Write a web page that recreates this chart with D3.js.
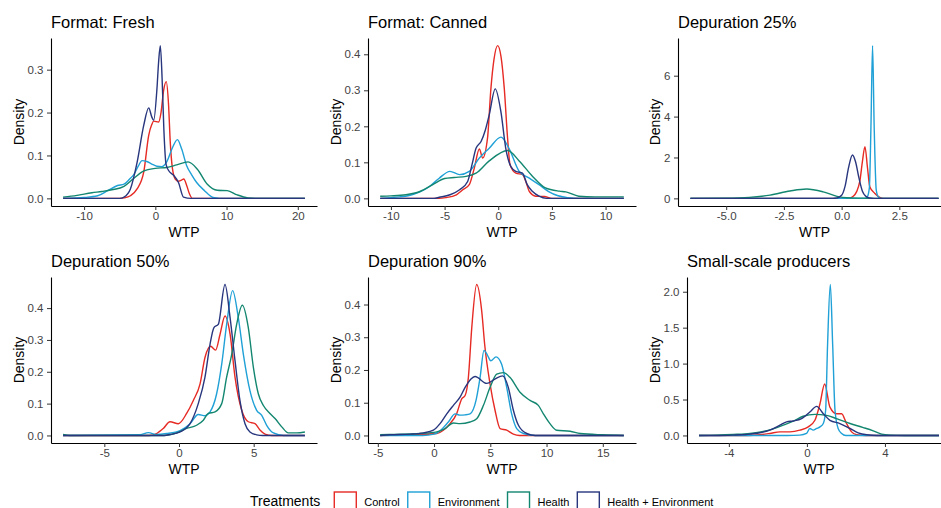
<!DOCTYPE html>
<html>
<head>
<meta charset="utf-8">
<script src="https://cdn.jsdelivr.net/npm/d3@7"></script>
<style>
body { margin: 0; background: #fff; }
svg { display: block; font-family: "Liberation Sans", Arial, Helvetica, sans-serif; }
</style>
</head>
<body>
<svg id="chart" width="941" height="508"></svg>
<script>
// treatments, in drawing order (last one ends on top)
const treatments = ['Control', 'Environment', 'Health', 'Health + Environment'];
const panelTitles = ['Format: Fresh', 'Format: Canned', 'Depuration 25%', 'Depuration 50%', 'Depuration 90%', 'Small-scale producers'];

const xTicks = [[-10, 0, 10, 20], [-10, -5, 0, 5, 10], [-5, -2.5, 0, 2.5], [-5, 0, 5], [-5, 0, 5, 10, 15], [-4, 0, 4]];
const yTicks = [[0, 0.1, 0.2, 0.3], [0, 0.1, 0.2, 0.3, 0.4], [0, 2, 4, 6], [0, 0.1, 0.2, 0.3, 0.4], [0, 0.1, 0.2, 0.3, 0.4], [0, 0.5, 1, 1.5, 2]];

// density curves, [WTP, density]
const freshControl = [[-12.95,0],[-5,0],[-4.4,0.001],[-3.5,0.006],[-2.56,0.022],[-1.63,0.061],[-0.93,0.147],[-0.5,0.172],[-0.23,0.18],[0.46,0.178],[0.8,0.2],[1.15,0.25],[1.53,0.272],[1.85,0.22],[2.1,0.13],[2.4,0.07],[2.8,0.045],[3.2,0.04],[3.6,0.042],[4.0,0.045],[4.4,0.03],[4.8,0.01],[5.2,0],[21,0]];
const freshEnvironment = [[-12.95,0],[-10,0.002],[-8.1,0.006],[-6.7,0.018],[-5.3,0.03],[-4.4,0.033],[-3.6,0.045],[-3.0,0.056],[-2.4,0.075],[-1.86,0.088],[-1.2,0.086],[-0.5,0.08],[0.2,0.075],[0.93,0.074],[1.6,0.085],[2.4,0.118],[3.1,0.137],[3.7,0.115],[4.4,0.076],[5.1,0.055],[5.8,0.037],[6.9,0.018],[8.1,0.002],[9,0],[21,0]];
const freshHealth = [[-12.95,0.003],[-11,0.007],[-10,0.01],[-8.9,0.013],[-7.5,0.016],[-6.1,0.02],[-4.4,0.028],[-3.0,0.047],[-1.6,0.064],[0,0.07],[1.6,0.072],[3.0,0.078],[4.6,0.085],[5.9,0.068],[7.3,0.033],[8.7,0.019],[10.1,0.018],[11.5,0.008],[13,0.001],[14,0],[21,0]];
const freshHealthEnv = [[-12.95,0],[-5,0],[-4.4,0.003],[-3.5,0.022],[-2.56,0.084],[-1.63,0.17],[-0.93,0.211],[-0.5,0.19],[-0.23,0.182],[0.23,0.256],[0.46,0.318],[0.7,0.356],[0.95,0.28],[1.2,0.16],[1.5,0.08],[1.86,0.065],[2.56,0.054],[3.25,0.037],[3.95,0.003],[5,0],[21,0]];

const cannedControl = [[-11,0],[-5.5,0],[-4.9,0.002],[-3.9,0.01],[-3.3,0.024],[-2.7,0.038],[-2.23,0.084],[-1.76,0.137],[-1.45,0.112],[-1.0,0.167],[-0.68,0.306],[-0.4,0.385],[-0.06,0.424],[0.25,0.395],[0.56,0.306],[0.87,0.167],[1.1,0.093],[1.64,0.07],[2.26,0.066],[2.57,0.047],[2.9,0.019],[3.5,0.006],[4.3,0.005],[5,0],[11.7,0]];
const cannedEnvironment = [[-11,0],[-10,0.002],[-9.2,0.004],[-8.3,0.008],[-7.3,0.018],[-6.4,0.033],[-5.5,0.056],[-4.5,0.075],[-3.6,0.066],[-2.7,0.075],[-1.76,0.112],[-0.84,0.139],[0.25,0.17],[1.0,0.139],[1.95,0.075],[2.9,0.056],[3.8,0.038],[4.7,0.019],[5.5,0.008],[6.5,0.002],[7.5,0],[11.7,0]];
const cannedHealth = [[-11,0.006],[-10,0.007],[-8.6,0.01],[-7.3,0.019],[-6.1,0.038],[-5.0,0.055],[-4.1,0.058],[-3.0,0.061],[-2.07,0.07],[-0.84,0.104],[0.87,0.133],[1.95,0.104],[3.2,0.061],[4.4,0.029],[5.7,0.02],[6.3,0.018],[7.5,0.006],[9,0.004],[11.7,0.004]];
const cannedHealthEnv = [[-11,0],[-6,0],[-5.5,0.003],[-4.5,0.01],[-3.6,0.024],[-2.85,0.047],[-2.45,0.093],[-2.07,0.139],[-1.6,0.158],[-1.2,0.19],[-0.84,0.232],[-0.28,0.304],[0.25,0.24],[0.7,0.139],[1.18,0.088],[1.64,0.075],[2.26,0.07],[2.7,0.038],[3.2,0.019],[3.8,0.006],[4.5,0],[11.7,0]];

const dep25Control = [[-6.55,0],[0.3,0],[0.5,0.1],[0.65,0.33],[0.79,0.85],[0.9,1.8],[1.01,2.53],[1.12,1.5],[1.22,0.57],[1.43,0.25],[1.65,0.05],[1.8,0],[4.2,0]];
const dep25Environment = [[-6.55,0],[1.0,0],[1.1,0.05],[1.2,0.5],[1.27,3.5],[1.34,7.47],[1.41,3.5],[1.5,0.4],[1.6,0.05],[1.7,0],[4.2,0]];
const dep25Health = [[-6.55,0],[-5,0.01],[-4,0.05],[-3.1,0.16],[-2.24,0.36],[-1.52,0.46],[-0.8,0.32],[-0.2,0.1],[0.22,0.03],[0.94,0.01],[1.5,0],[4.2,0]];
const dep25HealthEnv = [[-6.55,0],[-0.4,0],[-0.2,0.02],[0,0.15],[0.15,0.6],[0.3,1.5],[0.47,2.12],[0.6,1.8],[0.75,1.0],[0.9,0.35],[1.05,0.1],[1.2,0.02],[1.4,0],[4.2,0]];

const dep50Control = [[-7.76,0],[-2,0],[-1.5,0.006],[-1.05,0.022],[-0.6,0.043],[-0.04,0.037],[0.51,0.069],[0.96,0.11],[1.41,0.162],[1.74,0.245],[2.12,0.28],[2.45,0.268],[2.75,0.318],[3.08,0.375],[3.42,0.318],[3.75,0.183],[4.2,0.079],[4.64,0.043],[5.09,0.037],[5.42,0.017],[5.76,0.004],[6.2,0],[8.43,0]];
const dep50Environment = [[-7.76,0],[-2.6,0.002],[-2.05,0.009],[-1.5,0.003],[-0.83,0.006],[0.07,0.015],[0.74,0.037],[1.29,0.066],[1.74,0.062],[2.08,0.074],[2.52,0.131],[2.86,0.224],[3.19,0.349],[3.59,0.455],[3.97,0.37],[4.31,0.255],[4.75,0.141],[5.2,0.079],[5.54,0.063],[5.87,0.032],[6.32,0.008],[7,0],[8.43,0]];
const dep50Health = [[-7.76,0.003],[-7.3,0],[-1,0],[-0.16,0.008],[0.51,0.022],[1.18,0.032],[1.63,0.048],[1.96,0.069],[2.41,0.074],[2.86,0.1],[3.19,0.183],[3.53,0.255],[3.86,0.349],[4.24,0.409],[4.64,0.339],[4.98,0.214],[5.31,0.131],[5.65,0.094],[6.09,0.069],[6.43,0.053],[6.88,0.027],[7.32,0.008],[7.88,0.008],[8.43,0.011]];
const dep50HealthEnv = [[-7.76,0],[-1,0],[-0.6,0.003],[0.07,0.011],[0.74,0.037],[1.29,0.1],[1.74,0.183],[2.08,0.287],[2.34,0.339],[2.63,0.349],[3.08,0.474],[3.42,0.37],[3.75,0.235],[4.08,0.11],[4.42,0.037],[4.75,0.011],[5.2,0.002],[5.6,0],[8.43,0]];

const dep90Control = [[-4.79,0],[-2,0.002],[0.24,0.006],[0.83,0.016],[1.42,0.036],[2.0,0.066],[2.46,0.112],[2.76,0.122],[3.05,0.177],[3.35,0.328],[3.79,0.461],[4.24,0.379],[4.5,0.278],[4.98,0.157],[5.42,0.077],[5.87,0.021],[6.46,0.016],[7.05,0.004],[7.6,0],[16.87,0]];
const dep90Environment = [[-4.79,0],[-1,0],[0.0,0.004],[0.53,0.014],[1.27,0.041],[1.87,0.066],[2.3,0.062],[2.76,0.063],[3.2,0.066],[3.73,0.107],[4.09,0.177],[4.44,0.26],[4.75,0.245],[5.04,0.228],[5.51,0.24],[6.0,0.218],[6.46,0.147],[6.9,0.066],[7.35,0.021],[7.94,0.006],[9,0],[16.87,0]];
const dep90Health = [[-4.79,0.002],[-4,0.003],[-1.24,0.006],[0.24,0.011],[0.98,0.021],[1.72,0.038],[2.31,0.036],[3.2,0.041],[3.79,0.051],[4.39,0.092],[4.98,0.147],[5.57,0.187],[6.16,0.192],[6.76,0.177],[7.64,0.132],[8.53,0.107],[9.27,0.092],[9.72,0.066],[10.3,0.036],[10.9,0.016],[12.1,0.013],[13,0.006],[15,0.002],[16.87,0]];
const dep90HealthEnv = [[-4.79,0],[-3.9,0.002],[-2.1,0.004],[-0.95,0.008],[-0.06,0.016],[0.53,0.036],[1.13,0.066],[1.72,0.092],[2.31,0.117],[2.76,0.147],[3.64,0.18],[4.68,0.159],[5.4,0.172],[6.1,0.182],[6.6,0.147],[7.05,0.077],[7.5,0.031],[8.24,0.006],[9,0],[16.87,0]];

const smallControl = [[-5.53,0],[-3,0],[-2.4,0.01],[-1.9,0.028],[-1.38,0.05],[-0.87,0.05],[-0.36,0.074],[0.07,0.12],[0.41,0.211],[0.67,0.441],[0.91,0.717],[1.18,0.395],[1.52,0.303],[1.78,0.303],[2.03,0.166],[2.29,0.05],[2.55,0.01],[3,0],[6.77,0]];
const smallEnvironment = [[-5.53,0],[-1,0],[-0.36,0.005],[-0.02,0.028],[0.15,0.097],[0.32,0.074],[0.5,0.097],[0.67,0.12],[0.84,0.166],[0.96,0.35],[1.06,1.27],[1.2,2.1],[1.32,1.27],[1.44,0.35],[1.6,0.097],[1.78,0.028],[2.0,0],[6.77,0]];
const smallHealth = [[-5.53,0],[-4.6,0.005],[-3.78,0.014],[-2.92,0.028],[-2.24,0.055],[-1.73,0.092],[-1.21,0.143],[-0.7,0.198],[-0.19,0.267],[0.41,0.294],[1.01,0.28],[1.52,0.234],[2.21,0.166],[2.89,0.11],[3.4,0.064],[3.83,0.018],[4.26,0.005],[5,0],[6.77,0]];
const smallHealthEnv = [[-5.53,0],[-4.5,0],[-3.78,0.005],[-3.09,0.014],[-2.41,0.037],[-1.9,0.074],[-1.38,0.143],[-1.04,0.189],[-0.7,0.202],[-0.27,0.234],[0.15,0.326],[0.5,0.405],[0.84,0.303],[1.18,0.211],[1.69,0.166],[2.21,0.097],[2.63,0.037],[3.06,0.01],[3.6,0],[6.77,0]];

const panelSeries = [
    [freshControl, freshEnvironment, freshHealth, freshHealthEnv],
    [cannedControl, cannedEnvironment, cannedHealth, cannedHealthEnv],
    [dep25Control, dep25Environment, dep25Health, dep25HealthEnv],
    [dep50Control, dep50Environment, dep50Health, dep50HealthEnv],
    [dep90Control, dep90Environment, dep90Health, dep90HealthEnv],
    [smallControl, smallEnvironment, smallHealth, smallHealthEnv]
];

const colors = ['#E62A24', '#1FA0D6', '#138670', '#28367E'];

// panel rectangles (the right column runs past the picture edge, as in the original)
const boxes = [
    { left: 51, right: 317, top: 38, bottom: 206 },
    { left: 368, right: 636, top: 38, bottom: 206 },
    { left: 678, right: 951, top: 38, bottom: 206 },
    { left: 51, right: 317, top: 277, bottom: 443 },
    { left: 368, right: 636, top: 277, bottom: 443 },
    { left: 687, right: 951, top: 277, bottom: 443 }
];
const xFormats = ['d', 'd', '.1f', 'd', 'd', 'd'];
const yFormats = ['.1f', '.1f', 'd', '.1f', '.1f', '.1f'];

const locale = d3.formatLocale({ decimal: '.', thousands: ',', grouping: [3], currency: ['$', ''], minus: '-' });

const svg = d3.select('#chart');

panelSeries.forEach((series, i) => {
    const b = boxes[i];
    const allPts = series.flat();
    const xExt = d3.extent(allPts, d => d[0]);
    const xPad = (xExt[1] - xExt[0]) * 0.05;
    const yMax = d3.max(allPts, d => d[1]);

    const x = d3.scaleLinear().domain([xExt[0] - xPad, xExt[1] + xPad]).range([b.left, b.right]);
    const y = d3.scaleLinear().domain([-0.05 * yMax, 1.05 * yMax]).range([b.bottom, b.top]);

    const g = svg.append('g');

    const line = d3.line()
        .x(d => x(d[0]))
        .y(d => y(d[1]))
        .curve(d3.curveMonotoneX);

    series.forEach((s, k) => {
        g.append('path')
            .attr('d', line(s))
            .attr('fill', 'none')
            .attr('stroke', colors[k])
            .attr('stroke-width', 1.4)
            .attr('stroke-linejoin', 'round');
    });

    const xAxis = g.append('g')
        .attr('transform', `translate(0, ${b.bottom})`)
        .call(d3.axisBottom(x).tickValues(xTicks[i]).tickFormat(locale.format(xFormats[i]))
            .tickSize(4).tickSizeOuter(0).tickPadding(2));

    const yAxis = g.append('g')
        .attr('transform', `translate(${b.left}, 0)`)
        .call(d3.axisLeft(y).tickValues(yTicks[i]).tickFormat(locale.format(yFormats[i]))
            .tickSize(4).tickSizeOuter(0).tickPadding(3.5));

    [xAxis, yAxis].forEach(ax => {
        ax.select('.domain').attr('stroke', '#000').attr('stroke-width', 1.1);
        ax.selectAll('.tick line').attr('stroke', '#333').attr('stroke-width', 1);
        ax.selectAll('.tick text')
            .attr('fill', '#444')
            .style('font-size', '11.5px')
            .style('font-family', '"Liberation Sans", Arial, sans-serif');
    });

    let maxLabelW = 0;
    yAxis.selectAll('.tick text').each(function () {
        maxLabelW = Math.max(maxLabelW, this.getComputedTextLength());
    });

    g.append('text')
        .attr('x', (b.left + b.right) / 2)
        .attr('y', b.bottom + 31)
        .attr('text-anchor', 'middle')
        .style('font-size', '14px')
        .attr('fill', '#000')
        .text('WTP');

    g.append('text')
        .attr('transform', `translate(${b.left - 7.5 - maxLabelW - 4}, ${(b.top + b.bottom) / 2}) rotate(-90)`)
        .attr('text-anchor', 'middle')
        .style('font-size', '14px')
        .attr('fill', '#000')
        .text('Density');

    g.append('text')
        .attr('x', b.left)
        .attr('y', b.top - 10.5)
        .style('font-size', '16.5px')
        .attr('fill', '#000')
        .text(panelTitles[i]);
});

// legend
const legend = svg.append('g');
let lx = 250;
const legTitle = legend.append('text')
    .attr('x', lx)
    .attr('y', 505.5)
    .style('font-size', '14px')
    .attr('fill', '#000')
    .text('Treatments');
lx += legTitle.node().getComputedTextLength() + 14;

treatments.forEach((t, k) => {
    legend.append('rect')
        .attr('x', lx)
        .attr('y', 492)
        .attr('width', 22)
        .attr('height', 22)
        .attr('fill', 'none')
        .attr('stroke', colors[k])
        .attr('stroke-width', 1.4);
    const lbl = legend.append('text')
        .attr('x', lx + 30)
        .attr('y', 506)
        .style('font-size', '11px')
        .attr('fill', '#000')
        .text(t);
    lx += 30 + lbl.node().getComputedTextLength() + 8;
});
</script>
</body>
</html>
